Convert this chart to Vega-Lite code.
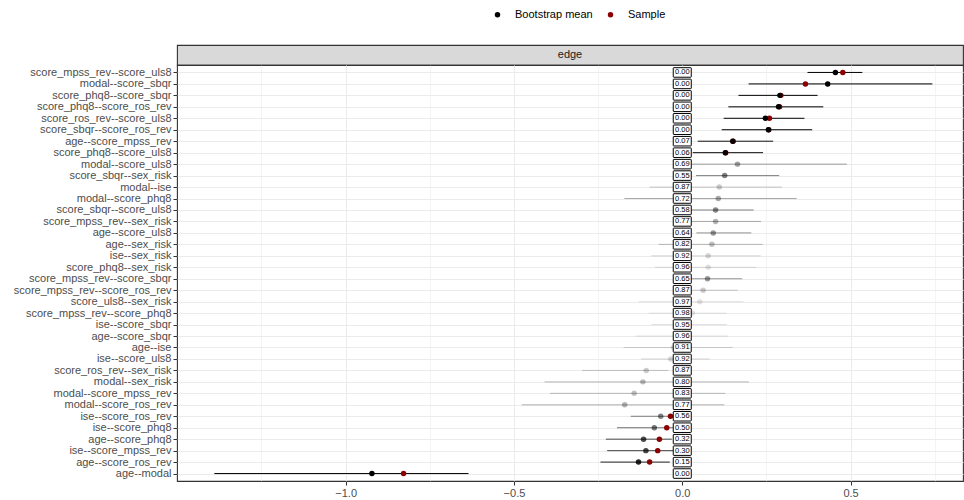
{
  "$schema": "https://vega.github.io/schema/vega-lite/v6.json",
  "padding": {"left": 12, "top": 8, "right": 0, "bottom": 0},
  "background": "white",
  "spacing": 0,
  "bounds": "flush",
  "config": {
    "font": "Liberation Sans",
    "view": {"stroke": "#333333", "strokeWidth": 1.1},
    "concat": {"spacing": 0},
    "point": {"opacity": 1},
    "legend": {"symbolOpacity": 1}
  },
  "datasets": {
    "strip": [{"panel": "edge"}],
    "edges": [
      {"edge": "score_mpss_rev--score_uls8", "mean": 0.455, "sample": 0.477, "lower": 0.372, "upper": 0.535, "prop0": 0.00},
      {"edge": "modal--score_sbqr", "mean": 0.432, "sample": 0.366, "lower": 0.197, "upper": 0.743, "prop0": 0.00},
      {"edge": "score_phq8--score_sbqr", "mean": 0.290, "sample": 0.293, "lower": 0.167, "upper": 0.402, "prop0": 0.00},
      {"edge": "score_phq8--score_ros_rev", "mean": 0.286, "sample": 0.289, "lower": 0.137, "upper": 0.419, "prop0": 0.00},
      {"edge": "score_ros_rev--score_uls8", "mean": 0.247, "sample": 0.259, "lower": 0.123, "upper": 0.363, "prop0": 0.00},
      {"edge": "score_sbqr--score_ros_rev", "mean": 0.256, "sample": 0.257, "lower": 0.117, "upper": 0.386, "prop0": 0.00},
      {"edge": "age--score_mpss_rev", "mean": 0.150, "sample": 0.151, "lower": 0.046, "upper": 0.270, "prop0": 0.07},
      {"edge": "score_phq8--score_uls8", "mean": 0.128, "sample": 0.129, "lower": 0.031, "upper": 0.240, "prop0": 0.06},
      {"edge": "modal--score_uls8", "mean": 0.164, "sample": 0, "lower": -0.02, "upper": 0.489, "prop0": 0.69},
      {"edge": "score_sbqr--sex_risk", "mean": 0.126, "sample": 0, "lower": 0.041, "upper": 0.288, "prop0": 0.55},
      {"edge": "modal--ise", "mean": 0.110, "sample": 0, "lower": -0.097, "upper": 0.296, "prop0": 0.87},
      {"edge": "modal--score_phq8", "mean": 0.107, "sample": 0, "lower": -0.172, "upper": 0.340, "prop0": 0.72},
      {"edge": "score_sbqr--score_uls8", "mean": 0.099, "sample": 0, "lower": -0.01, "upper": 0.212, "prop0": 0.58},
      {"edge": "score_mpss_rev--sex_risk", "mean": 0.099, "sample": 0, "lower": -0.02, "upper": 0.234, "prop0": 0.77},
      {"edge": "age--score_uls8", "mean": 0.092, "sample": 0, "lower": 0.042, "upper": 0.205, "prop0": 0.64},
      {"edge": "age--sex_risk", "mean": 0.088, "sample": 0, "lower": -0.070, "upper": 0.239, "prop0": 0.82},
      {"edge": "ise--sex_risk", "mean": 0.077, "sample": 0, "lower": -0.092, "upper": 0.233, "prop0": 0.92},
      {"edge": "score_phq8--sex_risk", "mean": 0.077, "sample": 0, "lower": -0.081, "upper": 0.220, "prop0": 0.96},
      {"edge": "score_mpss_rev--score_sbqr", "mean": 0.075, "sample": 0, "lower": -0.01, "upper": 0.178, "prop0": 0.65},
      {"edge": "score_mpss_rev--score_ros_rev", "mean": 0.062, "sample": 0, "lower": -0.02, "upper": 0.165, "prop0": 0.87},
      {"edge": "score_uls8--sex_risk", "mean": 0.052, "sample": 0, "lower": -0.130, "upper": 0.182, "prop0": 0.97},
      {"edge": "score_mpss_rev--score_phq8", "mean": 0.030, "sample": 0, "lower": -0.100, "upper": 0.131, "prop0": 0.98},
      {"edge": "ise--score_sbqr", "mean": 0.010, "sample": 0, "lower": -0.092, "upper": 0.133, "prop0": 0.95},
      {"edge": "age--score_sbqr", "mean": 0.005, "sample": 0, "lower": -0.139, "upper": 0.136, "prop0": 0.96},
      {"edge": "age--ise", "mean": -0.026, "sample": 0, "lower": -0.174, "upper": 0.150, "prop0": 0.91},
      {"edge": "ise--score_uls8", "mean": -0.034, "sample": 0, "lower": -0.122, "upper": 0.081, "prop0": 0.92},
      {"edge": "score_ros_rev--sex_risk", "mean": -0.107, "sample": 0, "lower": -0.298, "upper": -0.041, "prop0": 0.87},
      {"edge": "modal--sex_risk", "mean": -0.117, "sample": 0, "lower": -0.409, "upper": 0.198, "prop0": 0.80},
      {"edge": "modal--score_mpss_rev", "mean": -0.143, "sample": 0, "lower": -0.393, "upper": 0.128, "prop0": 0.83},
      {"edge": "modal--score_ros_rev", "mean": -0.171, "sample": 0, "lower": -0.477, "upper": 0.125, "prop0": 0.77},
      {"edge": "ise--score_ros_rev", "mean": -0.064, "sample": -0.035, "lower": -0.153, "upper": -0.01, "prop0": 0.56},
      {"edge": "ise--score_phq8", "mean": -0.083, "sample": -0.046, "lower": -0.194, "upper": -0.01, "prop0": 0.50},
      {"edge": "age--score_phq8", "mean": -0.115, "sample": -0.068, "lower": -0.227, "upper": -0.031, "prop0": 0.32},
      {"edge": "ise--score_mpss_rev", "mean": -0.108, "sample": -0.073, "lower": -0.223, "upper": -0.02, "prop0": 0.30},
      {"edge": "age--score_ros_rev", "mean": -0.130, "sample": -0.097, "lower": -0.243, "upper": -0.037, "prop0": 0.15},
      {"edge": "age--modal", "mean": -0.922, "sample": -0.828, "lower": -1.39, "upper": -0.635, "prop0": 0.00}
    ]
  },
  "resolve": {"scale": {"color": "independent"}, "legend": {"color": "independent"}},
  "vconcat": [
    {
      "width": 786,
      "height": 20,
      "data": {"name": "strip"},
      "view": {"fill": "#d9d9d9", "stroke": "#333333", "strokeWidth": 1.1},
      "mark": {"type": "text", "fontSize": 11, "color": "#1a1a1a", "font": "Liberation Sans"},
      "encoding": {"text": {"field": "panel", "type": "nominal"}}
    },
    {
      "width": 786,
      "height": 416,
      "data": {"name": "edges"},
      "encoding": {
        "y": {
          "field": "edge",
          "type": "nominal",
          "sort": null,
          "scale": {"type": "point", "padding": 0.65},
          "axis": {
            "title": null,
            "domain": false,
            "tickColor": "#333333",
            "tickSize": 4,
            "tickWidth": 1,
            "labelFontSize": 11,
            "labelFont": "Liberation Sans",
            "labelColor": "#4d4d4d",
            "labelPadding": 2,
            "labelOverlap": false,
            "grid": true,
            "gridColor": "#ebebeb",
            "gridWidth": 1.07
          }
        }
      },
      "layer": [
        {
          "mark": {"type": "rule", "strokeWidth": 1, "color": "black"},
          "encoding": {
            "x": {
              "field": "lower",
              "type": "quantitative",
              "scale": {"domain": [-1.501, 0.834], "nice": false, "zero": false},
              "axis": {
                "title": null,
                "domain": false,
                "values": [-1.25, -1, -0.75, -0.5, -0.25, 0, 0.25, 0.5, 0.75],
                "labelExpr": "abs(datum.value*2 - round(datum.value*2)) < 0.001 ? format(datum.value, '.1f') : ''",
                "tickSize": 4,
                "tickColor": "#333333",
                "tickWidth": 1,
                "tickOpacity": {"condition": {"test": "abs(datum.value*2 - round(datum.value*2)) < 0.001", "value": 1}, "value": 0},
                "grid": true,
                "gridColor": "#ebebeb",
                "gridWidth": {"condition": {"test": "abs(datum.value*2 - round(datum.value*2)) < 0.001", "value": 1.07}, "value": 0.53},
                "labelFontSize": 11,
                "labelFont": "Liberation Sans",
                "labelColor": "#4d4d4d",
                "labelPadding": 2,
                "labelFlush": false
              }
            },
            "x2": {"field": "upper"},
            "opacity": {"field": "prop0", "type": "quantitative", "scale": {"domain": [0, 0.98], "range": [1, 0.1]}, "legend": null}
          }
        },
        {
          "mark": {"type": "point", "filled": true, "size": 30, "strokeWidth": 0, "opacity": 1},
          "encoding": {
            "x": {"field": "sample", "type": "quantitative"},
            "color": {
              "datum": "Sample",
              "type": "nominal",
              "scale": {"domain": ["Bootstrap mean", "Sample"], "range": ["#000000", "#8b0000"]},
              "legend": {
                "orient": "none",
                "legendX": 315,
                "legendY": -56,
                "direction": "horizontal",
                "title": null,
                "symbolType": "circle",
                "symbolSize": 30,
                "symbolOpacity": 1,
                "symbolStrokeWidth": 0,
                "labelFontSize": 11,
                "labelFont": "Liberation Sans",
                "labelColor": "#000000",
                "columnPadding": 12,
                "labelOffset": 12,
                "padding": 0
              }
            }
          }
        },
        {
          "mark": {"type": "point", "filled": true, "size": 30, "strokeWidth": 0},
          "encoding": {
            "x": {"field": "mean", "type": "quantitative"},
            "color": {"datum": "Bootstrap mean", "type": "nominal"},
            "opacity": {"field": "prop0", "type": "quantitative", "scale": {"domain": [0, 0.98], "range": [1, 0.1]}, "legend": null}
          }
        },
        {
          "mark": {
            "type": "point",
            "shape": "M-0.94,-0.53L0.94,-0.53Q1,-0.53 1,-0.47L1,0.47Q1,0.53 0.94,0.53L-0.94,0.53Q-1,0.53 -1,0.47L-1,-0.47Q-1,-0.53 -0.94,-0.53Z",
            "size": 324,
            "filled": true,
            "fill": "white",
            "stroke": "black",
            "strokeWidth": 1,
            "opacity": 1
          },
          "encoding": {"x": {"datum": 0}}
        },
        {
          "mark": {"type": "text", "fontSize": 7.5, "color": "black", "font": "Liberation Sans"},
          "encoding": {
            "x": {"datum": 0},
            "text": {"field": "prop0", "type": "quantitative", "format": ".2f"}
          }
        }
      ]
    }
  ]
}
